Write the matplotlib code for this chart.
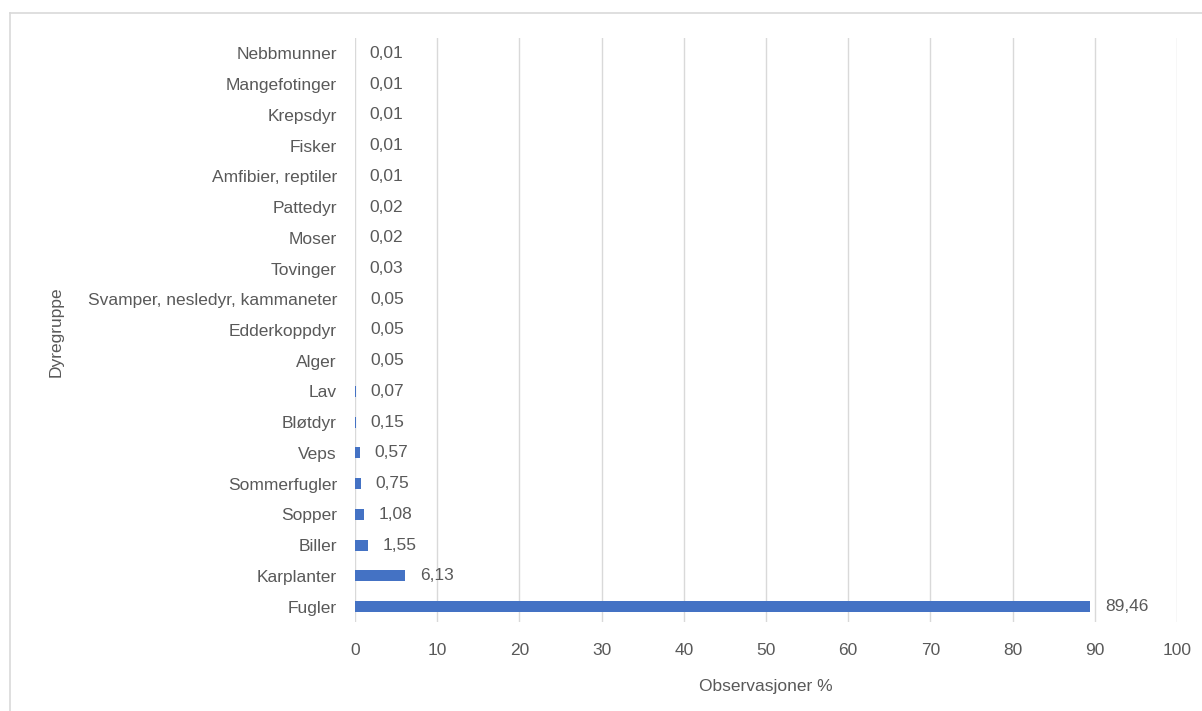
"""Horizontal bar chart of observation share per species group."""
import matplotlib.pyplot as plt
from matplotlib.lines import Line2D

groups = [
    "Fugler", "Karplanter", "Biller", "Sopper", "Sommerfugler", "Veps",
    "Bløtdyr", "Lav", "Alger", "Edderkoppdyr",
    "Svamper, nesledyr, kammaneter", "Tovinger", "Moser", "Pattedyr",
    "Amfibier, reptiler", "Fisker", "Krepsdyr", "Mangefotinger", "Nebbmunner",
]
percent = [
    89.46, 6.13, 1.55, 1.08, 0.75, 0.57,
    0.15, 0.07, 0.05, 0.05,
    0.05, 0.03, 0.02, 0.02,
    0.01, 0.01, 0.01, 0.01, 0.01,
]
x_ticks = [0, 10, 20, 30, 40, 50, 60, 70, 80, 90, 100]

TEXT = "#595959"
BAR = "#4472C4"
GRID = "#D9D9D9"
FS = 12.5

plt.rcParams["font.family"] = ["Liberation Sans", "DejaVu Sans"]
plt.rcParams["font.size"] = FS

fig = plt.figure(figsize=(12.02, 7.11), dpi=100)
ax = fig.add_axes([355 / 1202, 1 - 622 / 711, (1177 - 355) / 1202, (622 - 38) / 711])

pos = list(range(len(groups)))
ax.barh(pos, percent, height=0.36, color=BAR, zorder=3)

for y, v in zip(pos, percent):
    ax.annotate(f"{v:.2f}".replace(".", ","), (v, y), xytext=(10.5, 0),
                textcoords="offset points", ha="left", va="center",
                color=TEXT, fontsize=FS)

ax.set_xlim(0, 100)
ax.set_ylim(-0.5, len(groups) - 0.5)
ax.set_xticks(x_ticks)
ax.set_yticks(pos)
ax.set_yticklabels(groups)
ax.tick_params(axis="both", length=0, colors=TEXT, labelsize=FS)
ax.tick_params(axis="y", pad=13)
ax.tick_params(axis="x", pad=15)
ax.xaxis.grid(True, color=GRID, lw=1, zorder=0)
for s in ax.spines.values():
    s.set_visible(False)

ax.set_xlabel("Observasjoner %", color=TEXT, fontsize=FS)
ax.xaxis.set_label_coords(0.5, -0.098)
ax.set_ylabel("Dyregruppe", color=TEXT, fontsize=FS)
ax.yaxis.set_label_coords(-0.354, 0.497)

# thin chart frame along top and left
fig.add_artist(Line2D([10 / 1202, 1], [1 - 13 / 711] * 2, color=GRID, lw=1.2))
fig.add_artist(Line2D([10 / 1202] * 2, [0, 1 - 13 / 711], color=GRID, lw=1.2))

fig.savefig("out.png", dpi=100)
